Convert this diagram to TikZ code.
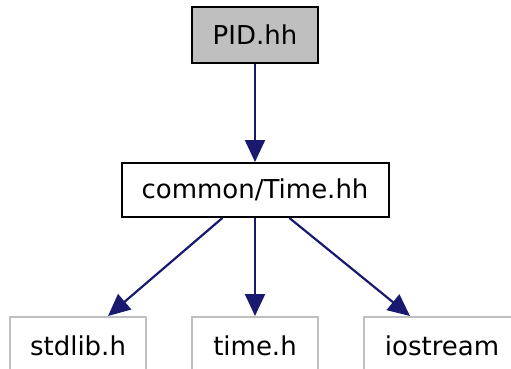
\documentclass[tikz,border=0pt]{standalone}
\usepackage{fontspec}
\setmainfont{DejaVu Sans}
\usetikzlibrary{arrows.meta,positioning}
\definecolor{edgeblue}{HTML}{191970}
\definecolor{boxgray}{HTML}{BFBFBF}

\begin{document}
\begin{tikzpicture}[x=1pt,y=1pt,node distance=98pt,
  font=\fontsize{26}{31}\selectfont,
  filebox/.style={draw,line width=2pt,minimum height=54pt,inner sep=0pt},
  sysbox/.style={filebox,draw=boxgray,minimum height=57pt},
  dep/.style={-{Triangle[length=22pt,width=20pt]},line width=2.2pt,draw=edgeblue,fill=edgeblue}]
\useasboundingbox (0,0) rectangle (511,-368);
\node[filebox,fill=boxgray,minimum width=126pt,minimum height=56pt] (pid) at (255,-35) {PID.hh};
\node[filebox,below=of pid,minimum width=267pt] (time) {common/Time.hh};
\node[sysbox,below=of time,minimum width=126pt] (timeh) {time.h};
\node[sysbox,left=44pt of timeh,minimum width=136pt] (stdlib) {stdlib.h};
\node[sysbox,right=44pt of timeh,minimum width=156pt] (iostream) {iostream};
\draw[dep] (pid) -- (time);
\draw[dep] (time) -- ([xshift=30pt]stdlib.north);
\draw[dep] (time) -- (timeh);
\draw[dep] (time) -- ([xshift=-32pt]iostream.north);
\end{tikzpicture}
\end{document}
